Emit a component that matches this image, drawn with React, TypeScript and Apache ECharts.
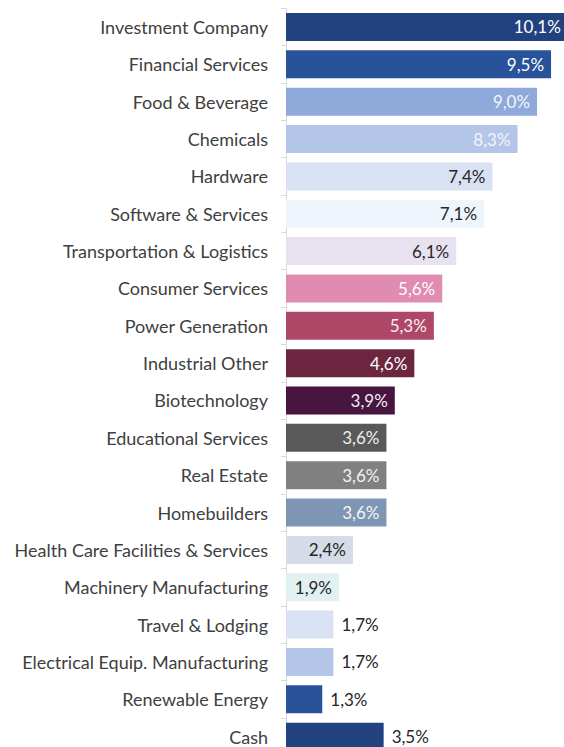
import React, { useEffect, useRef } from "react";
import * as echarts from "echarts";

const categories = [
  "Investment Company",
  "Financial Services",
  "Food & Beverage",
  "Chemicals",
  "Hardware",
  "Software & Services",
  "Transportation & Logistics",
  "Consumer Services",
  "Power Generation",
  "Industrial Other",
  "Biotechnology",
  "Educational Services",
  "Real Estate",
  "Homebuilders",
  "Health Care Facilities & Services",
  "Machinery Manufacturing",
  "Travel & Lodging",
  "Electrical Equip. Manufacturing",
  "Renewable Energy",
  "Cash",
];

const values = [10.1, 9.5, 9.0, 8.3, 7.4, 7.1, 6.1, 5.6, 5.3, 4.6, 3.9, 3.6, 3.6, 3.6, 2.4, 1.9, 1.7, 1.7, 1.3, 3.5];

const barColors = [
  "#22427f", "#28529a", "#8fa9da", "#b4c6e7", "#d9e2f3", "#eef5fd", "#e8e1f0",
  "#e08bb1", "#af4868", "#6c2640", "#481541", "#595959", "#808080", "#7f95b4",
  "#d5dbe7", "#e1f1f1", "#d9e2f3", "#b4c6e7", "#28529a", "#22427f",
];

const labelColors = [
  "#ffffff", "#ffffff", "#f2f5fb", "#f2f5fb", "#262626", "#262626", "#262626",
  "#ffffff", "#f7eef1", "#ffffff", "#f2eef2", "#eeeeee", "#f2f2f2", "#f2f5fb",
  "#262626", "#262626", "#262626", "#262626", "#262626", "#262626",
];

const outside = [false, false, false, false, false, false, false, false, false, false, false, false, false, false, false, false, true, true, true, true];

export default function App() {
  const ref = useRef<HTMLDivElement>(null);
  useEffect(() => {
    if (!ref.current) return;
    const chart = echarts.init(ref.current, null, { renderer: "svg" });
    const fmt = (v: number) => v.toFixed(1).replace(".", ",") + "%";
    chart.setOption({
      animation: false,
      grid: { left: 286, top: 8.3, width: 10.5 * 27.9, height: 747 },
      xAxis: {
        type: "value",
        min: 0,
        max: 10.5,
        show: false,
      },
      yAxis: {
        type: "category",
        data: categories,
        inverse: true,
        axisLine: { show: true, lineStyle: { color: "#d9d9d9", width: 1 } },
        axisTick: { show: true, length: 5, lineStyle: { color: "#d9d9d9" } },
        axisLabel: {
          color: "#404040",
          fontFamily: "Lato",
          fontSize: 18,
          margin: 18,
        },
      },
      series: [
        {
          type: "bar",
          barWidth: 28,
          data: values.map((v, i) => ({
            value: v,
            itemStyle: { color: barColors[i] },
            label: {
              show: true,
              position: outside[i] ? "right" : "insideRight",
              distance: outside[i] ? 8 : 7,
              color: labelColors[i],
              fontFamily: "Lato",
              fontSize: 17,
              formatter: () => fmt(v),
            },
          })),
        },
      ],
    });
    return () => chart.dispose();
  }, []);
  return (
    <div
      ref={ref}
      style={{ position: "fixed", left: 0, top: 0, width: 600, height: 760, background: "#ffffff" }}
    />
  );
}
